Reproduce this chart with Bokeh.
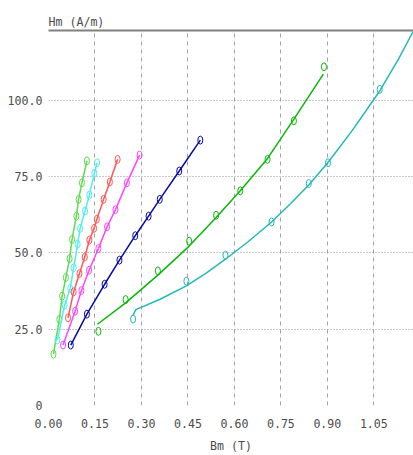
from bokeh.plotting import figure
from bokeh.models import Range1d, FixedTicker, LinearAxis
from bokeh.embed import file_html
from bokeh.resources import INLINE

# ---- data ----
x_ticks = [0.0, 0.15, 0.30, 0.45, 0.60, 0.75, 0.90, 1.05]
x_tick_labels = ["0.00", "0.15", "0.30", "0.45", "0.60", "0.75", "0.90", "1.05"]
y_ticks = [0, 25, 50, 75, 100]
y_tick_labels = ["0", "25.0", "50.0", "75.0", "100.0"]

s1_b = [0.016, 0.035, 0.044, 0.056, 0.068, 0.076, 0.090, 0.097, 0.108, 0.124]
s1_h = [16.8, 28.2, 35.8, 41.9, 48.1, 54.4, 62.0, 67.5, 72.9, 80.1]

s2_b = [0.029, 0.052, 0.070, 0.081, 0.094, 0.102, 0.118, 0.132, 0.148, 0.157]
s2_h = [21.5, 32.9, 38.3, 45.1, 52.8, 58.0, 63.7, 68.9, 76.0, 79.5]

s3_b = [0.063, 0.081, 0.100, 0.117, 0.132, 0.147, 0.156, 0.178, 0.198, 0.223]
s3_h = [28.7, 37.2, 43.2, 48.6, 54.2, 58.0, 61.0, 67.5, 73.2, 80.6]

s4_b = [0.047, 0.086, 0.106, 0.131, 0.161, 0.189, 0.216, 0.253, 0.294]
s4_h = [19.8, 30.9, 37.6, 44.3, 51.4, 58.5, 64.1, 72.9, 82.0]

s5_b = [0.072, 0.124, 0.181, 0.229, 0.280, 0.323, 0.359, 0.422, 0.490]
s5_h = [19.8, 29.9, 39.7, 47.6, 55.6, 62.0, 67.5, 76.8, 86.9]

s6_b = [0.161, 0.249, 0.353, 0.454, 0.541, 0.619, 0.707, 0.792, 0.889]
s6_h = [24.3, 34.7, 44.1, 53.8, 62.3, 70.3, 80.6, 93.2, 110.9]
s6_fit_b = [0.158, 0.249, 0.353, 0.454, 0.541, 0.619, 0.707, 0.792, 0.887]
s6_fit_h = [26.6, 33.6, 42.7, 52.2, 61.6, 70.3, 80.9, 93.8, 108.5]

s7_b = [0.273, 0.445, 0.571, 0.720, 0.840, 0.902, 1.069]
s7_h = [28.3, 40.7, 49.2, 60.1, 72.7, 79.5, 103.5]
s7_fit_b = [0.273, 0.282, 0.360, 0.445, 0.510, 0.571, 0.645, 0.720, 0.780, 0.840,
            0.902, 0.980, 1.069, 1.130, 1.190]
s7_fit_h = [29.6, 31.4, 34.8, 39.2, 43.4, 47.9, 53.7, 60.1, 66.0, 72.2,
            79.6, 90.0, 103.0, 113.5, 125.0]

colors = ["#5cdc4c", "#50eeee", "#ff5555", "#ff44ff", "#0808a8", "#08b808", "#22b8b8"]

series = [
    (s1_b, s1_h, s1_b, s1_h),
    (s2_b, s2_h, s2_b, s2_h),
    (s3_b, s3_h, s3_b, s3_h),
    (s4_b, s4_h, s4_b, s4_h),
    (s5_b, s5_h, s5_b, s5_h),
    (s6_b, s6_h, s6_fit_b, s6_fit_h),
    (s7_b, s7_h, s7_fit_b, s7_fit_h),
]

FONT = "DejaVu Sans Mono"
TXT = "#4c4c4c"
FS = "11.6px"

p = figure(width=413, height=455, output_backend="svg", toolbar_location=None,
           x_range=Range1d(0, 1.178), y_range=Range1d(0, 122.8),
           min_border_left=48, min_border_right=0, min_border_top=30, min_border_bottom=50)
p.outline_line_color = None
p.background_fill_color = "white"
p.border_fill_color = "white"

for (mb, mh, lb, lh), c in zip(series, colors):
    p.line(lb, lh, line_color=c, line_width=1.5)
    p.ellipse(x=mb, y=mh, width=5, height=8, width_units="screen", height_units="screen",
              fill_color=None, line_color=c, line_width=1)

# axes
xa = p.xaxis[0]
xa.ticker = FixedTicker(ticks=x_ticks)
xa.major_label_overrides = {t: l for t, l in zip(x_ticks, x_tick_labels)}
xa.axis_label = "Bm (T)"
ya = p.yaxis[0]
ya.ticker = FixedTicker(ticks=y_ticks)
ya.major_label_overrides = {t: l for t, l in zip(y_ticks, y_tick_labels)}
for ax in (xa, ya):
    ax.axis_line_color = None
    ax.major_tick_line_color = None
    ax.minor_tick_line_color = None
    ax.major_tick_in = 0
    ax.major_tick_out = 0
    ax.major_label_text_font = FONT
    ax.major_label_text_font_size = FS
    ax.major_label_text_color = TXT
    ax.axis_label_text_font = FONT
    ax.axis_label_text_font_size = FS
    ax.axis_label_text_color = TXT
    ax.axis_label_text_font_style = "normal"
xa.major_label_standoff = 13
xa.axis_label_standoff = 8
ya.major_label_standoff = 6

top = LinearAxis(ticker=FixedTicker(ticks=[]), axis_line_color="#808080", axis_line_width=2,
                 major_tick_line_color=None, minor_tick_line_color=None,
                 major_tick_in=0, major_tick_out=0,
                 major_label_text_font_size="0px", major_label_standoff=0)
p.add_layout(top, "above")

p.title.text = "Hm (A/m)"
p.title.align = "left"
p.title.text_font = FONT
p.title.text_font_size = FS
p.title.text_font_style = "normal"
p.title.text_color = TXT
p.title.standoff = 4

p.xgrid.ticker = FixedTicker(ticks=x_ticks)
p.ygrid.ticker = FixedTicker(ticks=y_ticks)
p.xgrid.grid_line_color = "#a0a0a0"
p.xgrid.grid_line_dash = "4 4"
p.ygrid.grid_line_color = "#909090"
p.ygrid.grid_line_dash = "1 2"

open("out.html", "w").write(file_html(p, INLINE))
